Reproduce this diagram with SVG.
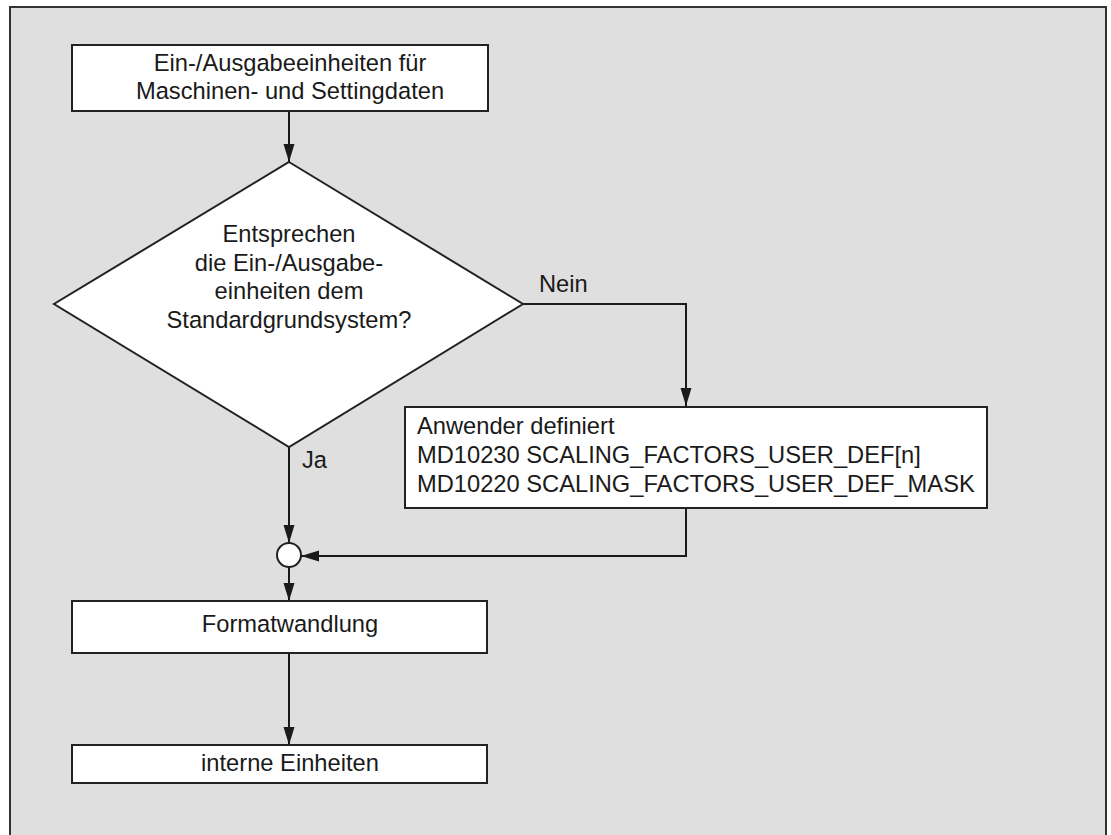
<svg xmlns="http://www.w3.org/2000/svg" width="1111" height="835" viewBox="0 0 1111 835">
  <style>
    .box { fill: #ffffff; stroke: #222222; stroke-width: 2; }
    .conn { fill: none; stroke: #1a1a1a; stroke-width: 2; }
    .t { font-family: "Liberation Sans", Arial, Helvetica, sans-serif; font-size: 23.7px; fill: #1a1a1a; }
    .c { text-anchor: middle; }
  </style>
  <defs>
    <marker id="arrow" markerUnits="userSpaceOnUse" markerWidth="18" markerHeight="12" refX="18" refY="6" orient="auto">
      <path d="M0,0.5 L18,6 L0,11.5 Z" fill="#1a1a1a"/>
    </marker>
  </defs>

  <rect id="frame" x="10" y="7" width="1096" height="840" fill="#dfdfdf" stroke="#333333" stroke-width="2"/>

  <g id="connectors">
    <line class="conn" x1="289" y1="111" x2="289" y2="162" marker-end="url(#arrow)"/>
    <polyline class="conn" points="523,304 686,304 686,406" marker-end="url(#arrow)"/>
    <line class="conn" x1="289" y1="447" x2="289" y2="543" marker-end="url(#arrow)"/>
    <polyline class="conn" points="686,508 686,556 301,556" marker-end="url(#arrow)"/>
    <line class="conn" x1="289" y1="567" x2="289" y2="601" marker-end="url(#arrow)"/>
    <line class="conn" x1="289" y1="653" x2="289" y2="745" marker-end="url(#arrow)"/>
    <text class="t" x="539" y="292">Nein</text>
    <text class="t" x="302" y="468">Ja</text>
  </g>

  <g id="n_start">
    <rect class="box" x="72" y="45" width="416" height="66"/>
    <text class="t c" x="290" y="71">Ein-/Ausgabeeinheiten für</text>
    <text class="t c" x="290" y="99">Maschinen- und Settingdaten</text>
  </g>

  <g id="n_decision">
    <polygon class="box" points="289,162 523,304 289,447 54,304"/>
    <text class="t c" x="289" y="242">Entsprechen</text>
    <text class="t c" x="289" y="271">die Ein-/Ausgabe-</text>
    <text class="t c" x="289" y="299">einheiten dem</text>
    <text class="t c" x="289" y="328">Standardgrundsystem?</text>
  </g>

  <g id="n_user">
    <rect class="box" x="405" y="407" width="582" height="101"/>
    <text class="t" x="417" y="434">Anwender definiert</text>
    <text class="t" x="417" y="463">MD10230 SCALING_FACTORS_USER_DEF[n]</text>
    <text class="t" x="417" y="492">MD10220 SCALING_FACTORS_USER_DEF_MASK</text>
  </g>

  <g id="n_join">
    <circle class="box" cx="289" cy="555" r="12"/>
  </g>

  <g id="n_format">
    <rect class="box" x="72" y="601" width="415" height="52"/>
    <text class="t c" x="290" y="632">Formatwandlung</text>
  </g>

  <g id="n_internal">
    <rect class="box" x="72" y="745" width="415" height="38"/>
    <text class="t c" x="290" y="771">interne Einheiten</text>
  </g>
</svg>
